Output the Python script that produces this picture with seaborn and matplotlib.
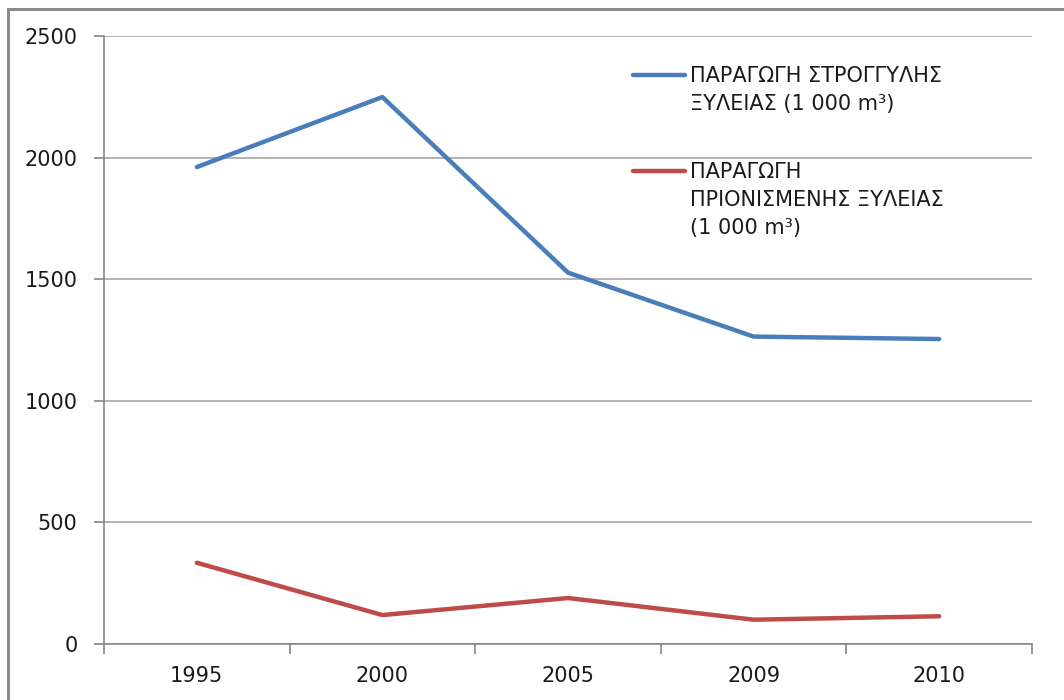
import pandas as pd
import numpy as np
import matplotlib
matplotlib.use("Agg")
import matplotlib.pyplot as plt
import seaborn as sns
from matplotlib.patches import Rectangle
from matplotlib.ticker import FixedLocator, NullFormatter

# Data
years = ["1995", "2000", "2005", "2009", "2010"]
round_wood = [1961, 2249, 1527, 1264, 1254]
sawn_wood = [334, 119, 189, 100, 114]

label_round = "ΠΑΡΑΓΩΓΗ ΣΤΡΟΓΓΥΛΗΣ\nΞΥΛΕΙΑΣ (1 000 m³)"
label_sawn = "ΠΑΡΑΓΩΓΗ\nΠΡΙΟΝΙΣΜΕΝΗΣ ΞΥΛΕΙΑΣ\n(1 000 m³)"

data = pd.DataFrame({
    "year": years * 2,
    "value": round_wood + sawn_wood,
    "series": [label_round] * len(years) + [label_sawn] * len(years),
})

sns.set_theme(style="white")
plt.rcParams["font.family"] = ["DejaVu Sans"]

fig = plt.figure(figsize=(10.64, 7), dpi=100)
ax = fig.add_axes([104 / 1064, 56 / 700, 928 / 1064, 608 / 700])

sns.lineplot(data=data, x="year", y="value", hue="series",
             palette=["#4A7EBB", "#BE4B48"], linewidth=3.2,
             sort=False, ax=ax, solid_capstyle="round")

ax.set_xlim(-0.5, len(years) - 0.5)
ax.set_ylim(0, 2500)
ax.set_yticks(np.arange(0, 2501, 500))
ax.yaxis.grid(True, color="#A6A6A6", linewidth=1.2)
ax.set_axisbelow(True)

# category boundary ticks, labels centred in between
ax.xaxis.set_major_locator(FixedLocator(np.arange(-0.5, len(years), 1.0)))
ax.xaxis.set_major_formatter(NullFormatter())
ax.xaxis.set_minor_locator(FixedLocator(np.arange(len(years))))
ax.set_xticklabels(years, minor=True)
ax.tick_params(axis="x", which="major", length=7, width=1.2, color="#868686", direction="out")
ax.tick_params(axis="x", which="minor", length=0, pad=16, labelsize=15, labelcolor="#1a1a1a")
ax.tick_params(axis="y", length=7, width=1.2, color="#868686", direction="out",
               pad=12, labelsize=15, labelcolor="#1a1a1a")
ax.xaxis.set_ticks_position("bottom")
ax.yaxis.set_ticks_position("left")

for side in ["top", "right"]:
    ax.spines[side].set_visible(False)
for side in ["left", "bottom"]:
    ax.spines[side].set_color("#868686")
    ax.spines[side].set_linewidth(1.2)

ax.set_xlabel("")
ax.set_ylabel("")

leg = ax.legend(loc="upper left", bbox_to_anchor=(633 / 1064, 1 - 66 / 700),
                bbox_transform=fig.transFigure, frameon=False, fontsize=15,
                handlelength=2.5, handletextpad=0.25, labelspacing=2.35,
                handleheight=1.2, borderpad=0, borderaxespad=0)
for line in leg.get_lines():
    line.set_linewidth(3.2)
for col in leg._legend_handle_box.get_children():
    for item in col.get_children():
        item.align = "top"
for t in leg.get_texts():
    t.set_color("#1a1a1a")
    t.set_linespacing(1.47)

# outer chart frame
fig.patches.append(Rectangle((8 / 1064, -0.1), 1.2, 1.1 - 9 / 700,
                             transform=fig.transFigure, fill=False,
                             edgecolor="#8C8C8C", linewidth=2.2))

fig.savefig("out.png", dpi=100)
